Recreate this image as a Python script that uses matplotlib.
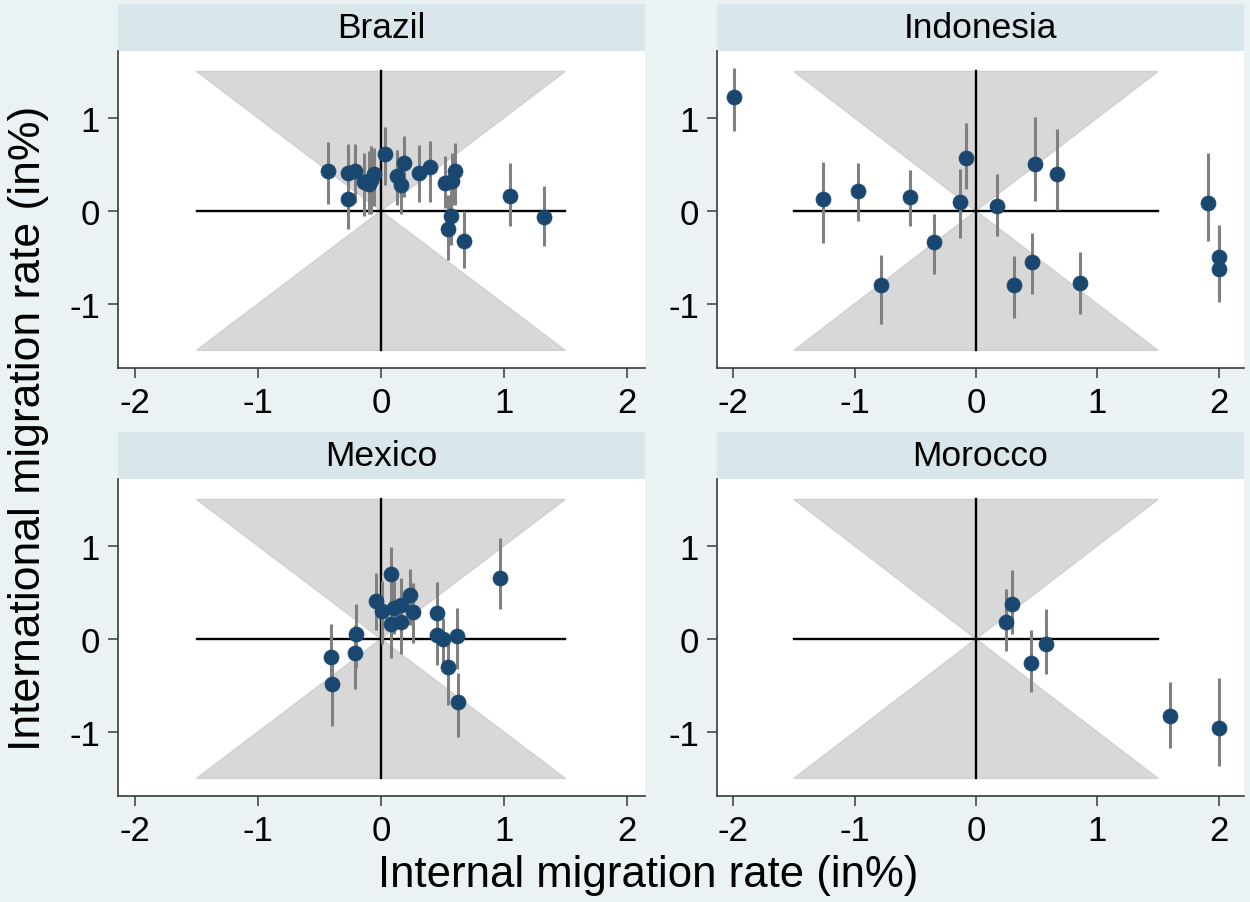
import matplotlib
matplotlib.use("Agg")
import matplotlib.pyplot as plt
import numpy as np

plt.rcParams['font.family'] = ['Liberation Sans', 'DejaVu Sans']

# ---------------- data ----------------
countries = ["Brazil", "Indonesia", "Mexico", "Morocco"]

brazil_x  = [-0.43, -0.27, -0.27, -0.21, -0.14, -0.10, -0.08, -0.06, 0.03, 0.19, 0.135, 0.16, 0.31, 0.40, 0.52, 0.58, 0.60, 0.57, 0.55, 0.68, 1.05, 1.325]
brazil_y  = [0.43, 0.41, 0.125, 0.43, 0.31, 0.29, 0.33, 0.40, 0.61, 0.51, 0.38, 0.28, 0.41, 0.47, 0.30, 0.32, 0.43, -0.05, -0.19, -0.32, 0.16, -0.07]
brazil_lo = [0.07, 0.08, -0.19, 0.08, -0.05, -0.03, -0.03, 0.05, 0.28, 0.15, 0.06, -0.03, 0.10, 0.10, 0.03, 0.06, 0.06, -0.37, -0.53, -0.61, -0.16, -0.38]
brazil_hi = [0.74, 0.72, 0.45, 0.72, 0.62, 0.64, 0.70, 0.68, 0.90, 0.81, 0.65, 0.53, 0.71, 0.75, 0.59, 0.62, 0.73, 0.28, 0.17, 0.00, 0.52, 0.27]

indonesia_x  = [-1.995, -1.264, -0.975, -0.544, -0.783, -0.346, -0.132, -0.08, 0.176, 0.49, 0.665, 0.31, 0.464, 0.857, 1.915, 2.0, 2.0]
indonesia_y  = [1.22, 0.125, 0.21, 0.15, -0.80, -0.33, 0.10, 0.57, 0.05, 0.50, 0.40, -0.80, -0.55, -0.78, 0.086, -0.50, -0.62]
indonesia_lo = [0.86, -0.35, -0.11, -0.16, -1.22, -0.68, -0.29, 0.24, -0.27, 0.11, 0.01, -1.15, -0.89, -1.11, -0.325, -0.90, -0.98]
indonesia_hi = [1.54, 0.525, 0.51, 0.44, -0.47, -0.03, 0.45, 0.95, 0.40, 1.01, 0.88, -0.49, -0.24, -0.44, 0.625, -0.15, -0.20]

mexico_x  = [0.084, -0.038, 0.01, 0.11, 0.165, 0.24, 0.26, 0.084, 0.16, 0.455, 0.455, 0.504, 0.618, 0.545, 0.626, 0.97, -0.206, -0.214, -0.41, -0.40]
mexico_y  = [0.70, 0.41, 0.30, 0.33, 0.36, 0.47, 0.29, 0.16, 0.18, 0.28, 0.04, 0.00, 0.036, -0.30, -0.68, 0.66, 0.057, -0.15, -0.19, -0.48]
mexico_lo = [0.40, 0.10, -0.06, 0.05, 0.05, 0.15, -0.04, -0.21, -0.16, -0.06, -0.28, -0.29, -0.32, -0.71, -1.05, 0.32, -0.31, -0.54, -0.56, -0.94]
mexico_hi = [0.99, 0.71, 0.62, 0.62, 0.66, 0.75, 0.60, 0.44, 0.48, 0.61, 0.30, 0.23, 0.33, 0.01, -0.37, 1.09, 0.37, 0.15, 0.16, -0.17]

morocco_x  = [0.245, 0.30, 0.453, 0.58, 1.60, 2.0]
morocco_y  = [0.18, 0.37, -0.26, -0.054, -0.83, -0.96]
morocco_lo = [-0.13, 0.05, -0.57, -0.38, -1.175, -1.365]
morocco_hi = [0.54, 0.74, 0.10, 0.325, -0.46, -0.42]

x_ticks = [-2, -1, 0, 1, 2]
y_ticks = [-1, 0, 1]
cone = 1.5

series = {
    "Brazil": (brazil_x, brazil_y, brazil_lo, brazil_hi),
    "Indonesia": (indonesia_x, indonesia_y, indonesia_lo, indonesia_hi),
    "Mexico": (mexico_x, mexico_y, mexico_lo, mexico_hi),
    "Morocco": (morocco_x, morocco_y, morocco_lo, morocco_hi),
}

# ---------------- style ----------------
W, H = 1250, 903
BG = "#EAF2F3"
STRIP = "#D9E6EB"
NAVY = "#1A476F"
CI = "#808080"
CONE = "#D8D8D8"
SPINE = "#3A3A3A"

fig = plt.figure(figsize=(W / 100, H / 100), dpi=100, facecolor=BG)

def px_axes(x0, y0, x1, y1):
    return fig.add_axes([x0 / W, 1 - y1 / H, (x1 - x0) / W, (y1 - y0) / H])

cols = [(118, 645), (717, 1244)]
rows = [(5, 52, 369), (433, 480, 797)]
xlims = [(-2.14, 2.15), (-2.135, 2.21)]

for i, name in enumerate(countries):
    r, c = divmod(i, 2)
    x0, x1 = cols[c]
    st, pt, pb = rows[r]

    # strip
    sax = px_axes(x0, st, x1, pt)
    sax.set_facecolor(STRIP)
    sax.set_xticks([]); sax.set_yticks([])
    for s in sax.spines.values():
        s.set_visible(False)
    sax.text(0.5, 0.5, name, ha="center", va="center", fontsize=25.5,
             transform=sax.transAxes, color="black")

    ax = px_axes(x0, pt, x1, pb)
    ax.set_facecolor("white")
    ax.set_xlim(*xlims[c])
    ax.set_ylim(-1.69, 1.72)

    # hourglass
    ax.fill([-cone, cone, 0], [cone, cone, 0], color=CONE, lw=1, ec="#D0D0D0", zorder=1)
    ax.fill([-cone, cone, 0], [-cone, -cone, 0], color=CONE, lw=1, ec="#D0D0D0", zorder=1)
    ax.plot([-cone, cone], [0, 0], color="black", lw=1.7, zorder=2)
    ax.plot([0, 0], [-cone, cone], color="black", lw=1.7, zorder=2)

    xs, ys, lo, hi = series[name]
    ax.vlines(xs, lo, hi, color=CI, lw=2.2, zorder=3)
    ax.plot(xs, ys, "o", color=NAVY, ms=10.8, mec=NAVY, mew=0.5, zorder=4, ls="none")

    for s in ["top", "right"]:
        ax.spines[s].set_visible(False)
    for s in ["left", "bottom"]:
        ax.spines[s].set_color(SPINE)
        ax.spines[s].set_linewidth(1.2)
    ax.set_xticks(x_ticks)
    ax.set_yticks(y_ticks)
    ax.set_xticklabels([str(t) if t >= 0 else "-" + str(-t) for t in x_ticks])
    ax.set_yticklabels([str(t) if t >= 0 else "-" + str(-t) for t in y_ticks])
    ax.tick_params(direction="out", length=7, width=1.1, color=SPINE,
                   labelsize=25, pad=6)

fig.text(648 / W, 1 - 876 / H, "Internal migration rate (in%)", ha="center",
         va="center", fontsize=31.5)
fig.text(29 / W, 1 - 428 / H, "International migration rate (in%)", ha="center",
         va="center", rotation=90, fontsize=32)

fig.savefig("out.png", dpi=100, facecolor=BG)
